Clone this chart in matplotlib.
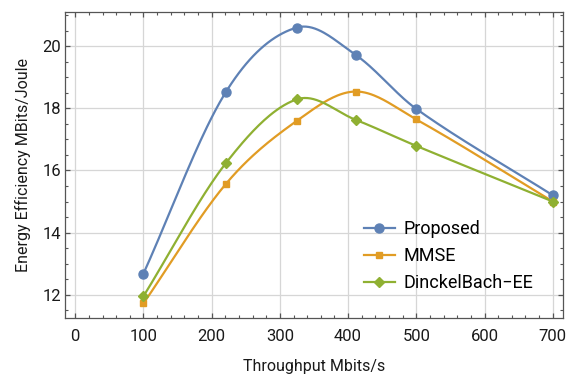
import matplotlib
matplotlib.use("Agg")
import matplotlib.pyplot as plt
import numpy as np
from matplotlib.ticker import MultipleLocator

plt.rcParams['font.family'] = ['Roboto', 'DejaVu Sans']

throughput = [100, 221, 325, 411, 500, 700]
proposed = [12.68, 18.53, 20.6, 19.72, 17.98, 15.2]
mmse = [11.72, 15.57, 17.6, 18.54, 17.64, 15.0]
dinkelbach = [11.95, 16.24, 18.29, 17.63, 16.79, 15.0]

labels = ['Proposed', 'MMSE', 'DinckelBach\u2212EE']
colors = ['#5E81B5', '#E19C24', '#8FB032']
markers = ['o', 's', 'D']
msizes = [6.5, 4.5, 5.0]


def smooth(x, y, n=40):
    # cubic hermite through the points, finite-difference tangents
    x = np.asarray(x, float)
    y = np.asarray(y, float)
    m = np.zeros_like(y)
    m[0] = (y[1] - y[0]) / (x[1] - x[0])
    m[-1] = (y[-1] - y[-2]) / (x[-1] - x[-2])
    for i in range(1, len(x) - 1):
        m[i] = (y[i + 1] - y[i - 1]) / (x[i + 1] - x[i - 1])
    xs, ys = [], []
    for i in range(len(x) - 1):
        h = x[i + 1] - x[i]
        t = np.linspace(0, 1, n)
        h00 = 2 * t**3 - 3 * t**2 + 1
        h10 = t**3 - 2 * t**2 + t
        h01 = -2 * t**3 + 3 * t**2
        h11 = t**3 - t**2
        xs.append(x[i] + t * h)
        ys.append(h00 * y[i] + h10 * h * m[i] + h01 * y[i + 1] + h11 * h * m[i + 1])
    return np.concatenate(xs), np.concatenate(ys)


fig = plt.figure(figsize=(5.69, 3.79), dpi=100)
ax = fig.add_axes([65 / 569, 61 / 379, 498 / 569, 306 / 379])

for ys, lab, c, mk, ms in zip([proposed, mmse, dinkelbach], labels, colors, markers, msizes):
    sx, sy = smooth(throughput, ys)
    ax.plot(sx, sy, color=c, lw=1.6, zorder=3)
    ax.plot(throughput, ys, linestyle='none', marker=mk, color=c, ms=ms, zorder=4)
    ax.plot([], [], color=c, lw=1.6, marker=mk, ms=ms, label=lab)

ax.set_xlim(-15, 715)
ax.set_ylim(11.25, 21.1)
ax.xaxis.set_major_locator(MultipleLocator(100))
ax.xaxis.set_minor_locator(MultipleLocator(20))
ax.yaxis.set_major_locator(MultipleLocator(2))
ax.yaxis.set_minor_locator(MultipleLocator(0.5))
ax.grid(True, which='major', color='#d6d6d6', lw=0.9, zorder=0)
ax.set_axisbelow(True)

for s in ax.spines.values():
    s.set_color('#555555')
    s.set_linewidth(0.9)
ax.tick_params(which='both', direction='in', top=True, right=True, colors='#555555',
               labelcolor='#1a1a1a', labelsize=12)
ax.tick_params(which='major', length=3.5, width=0.9)
ax.tick_params(which='minor', length=2, width=0.8)
ax.tick_params(axis='x', pad=8)
ax.tick_params(axis='y', pad=3)

ax.set_xlabel('Throughput Mbits/s', fontsize=11.5, color='#1a1a1a', labelpad=11)
ax.set_ylabel('Energy Efficiency MBits/Joule', fontsize=11.5, color='#1a1a1a', labelpad=8)

ax.legend(loc='center left', bbox_to_anchor=(355 / 569, 1 - 256 / 379),
          bbox_transform=fig.transFigure, frameon=False, fontsize=13,
          handlelength=1.7, handletextpad=0.5, labelspacing=0.5, borderpad=0)

fig.savefig('out.png', dpi=100)
